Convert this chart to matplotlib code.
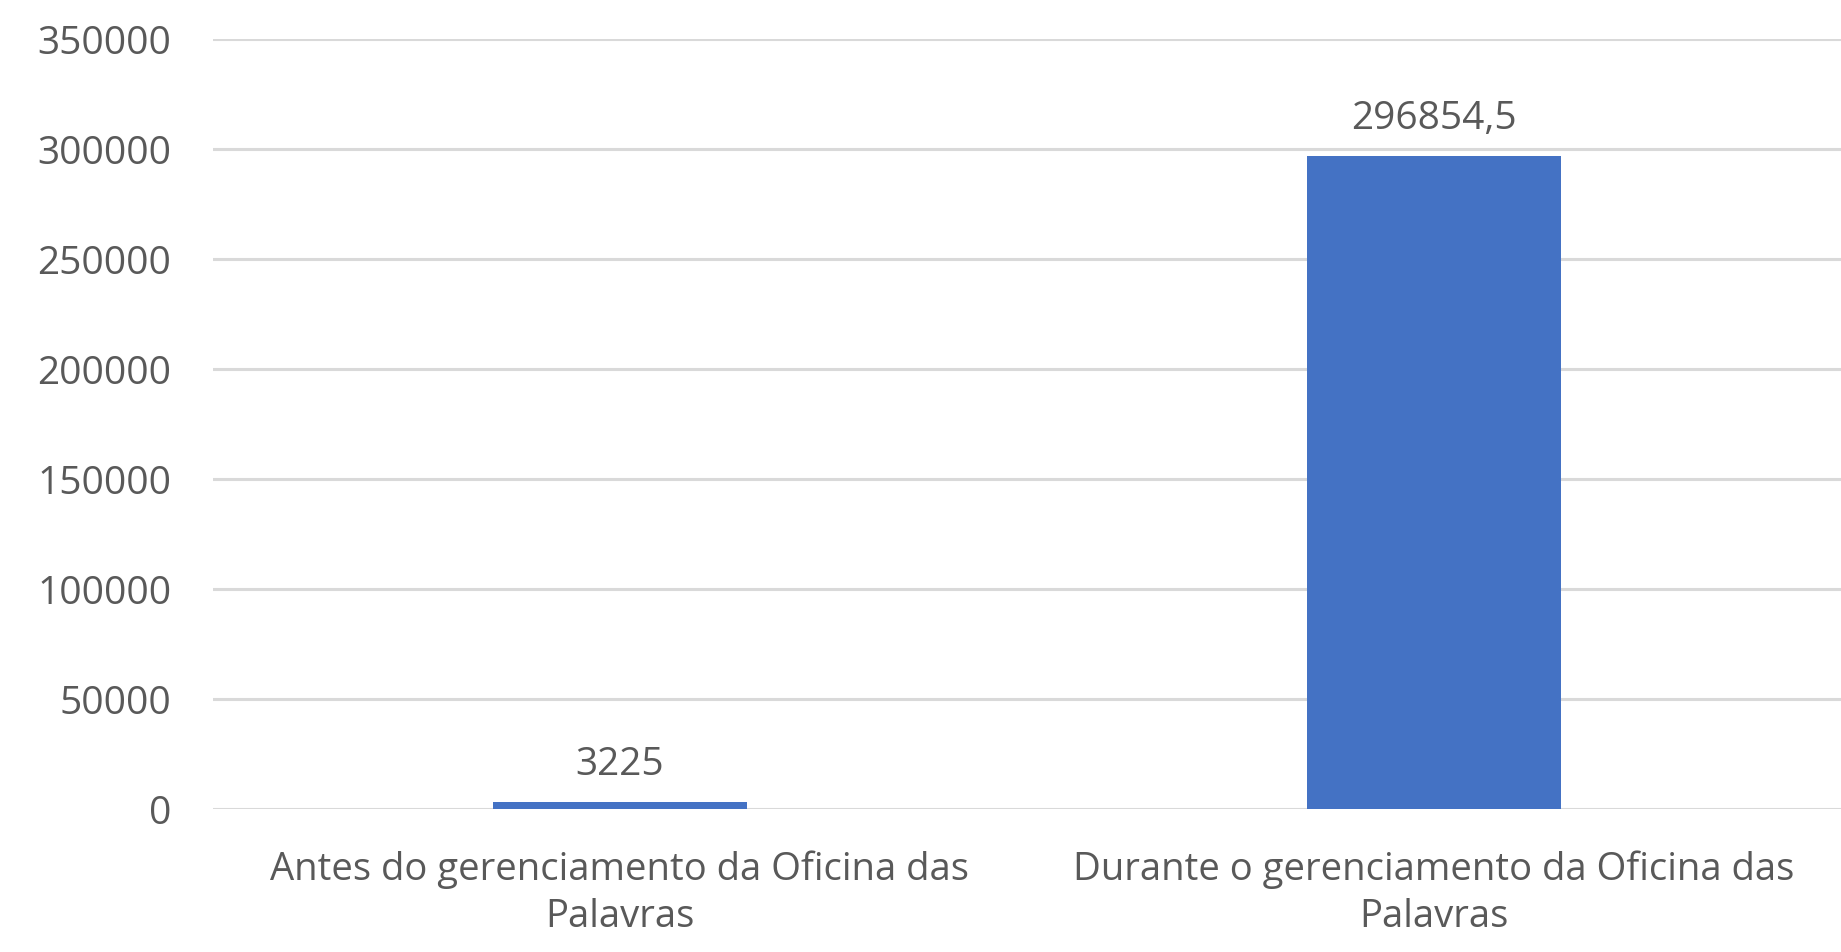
import matplotlib.pyplot as plt

categorias = ["Antes do gerenciamento da Oficina das\nPalavras",
              "Durante o gerenciamento da Oficina das\nPalavras"]
valores = [3225, 296854.5]
rotulos = ["3225", "296854,5"]
yticks = [0, 50000, 100000, 150000, 200000, 250000, 300000, 350000]

plt.rcParams['font.family'] = ['Open Sans', 'DejaVu Sans']
cinza = '#595959'

fig = plt.figure(figsize=(18.41, 9.52), dpi=100)
ax = fig.add_axes([213/1841, 1 - 809/952, 1 - 213/1841, (809 - 39)/952])

x = range(len(categorias))
bars = ax.bar(x, valores, width=0.313, color='#4472C4', zorder=3)

for b, txt in zip(bars, rotulos):
    ax.annotate(txt, (b.get_x() + b.get_width()/2, b.get_height()),
                xytext=(0, 13), textcoords='offset points',
                ha='center', va='bottom', fontsize=28, color=cinza)

ax.set_xlim(-0.5, 1.5)
ax.set_ylim(0, 350000)
ax.set_yticks(yticks)
ax.set_yticklabels([str(v) for v in yticks])
ax.set_xticks(list(x))
ax.set_xticklabels(categorias, linespacing=1.3)
ax.tick_params(axis='y', length=0, pad=30, labelsize=28, labelcolor=cinza)
ax.tick_params(axis='x', length=0, pad=30, labelsize=27.5, labelcolor=cinza)

ax.grid(axis='y', color='#d9d9d9', linewidth=2.2, zorder=0)
for s in ax.spines.values():
    s.set_visible(False)

fig.savefig('out.png', dpi=100)
